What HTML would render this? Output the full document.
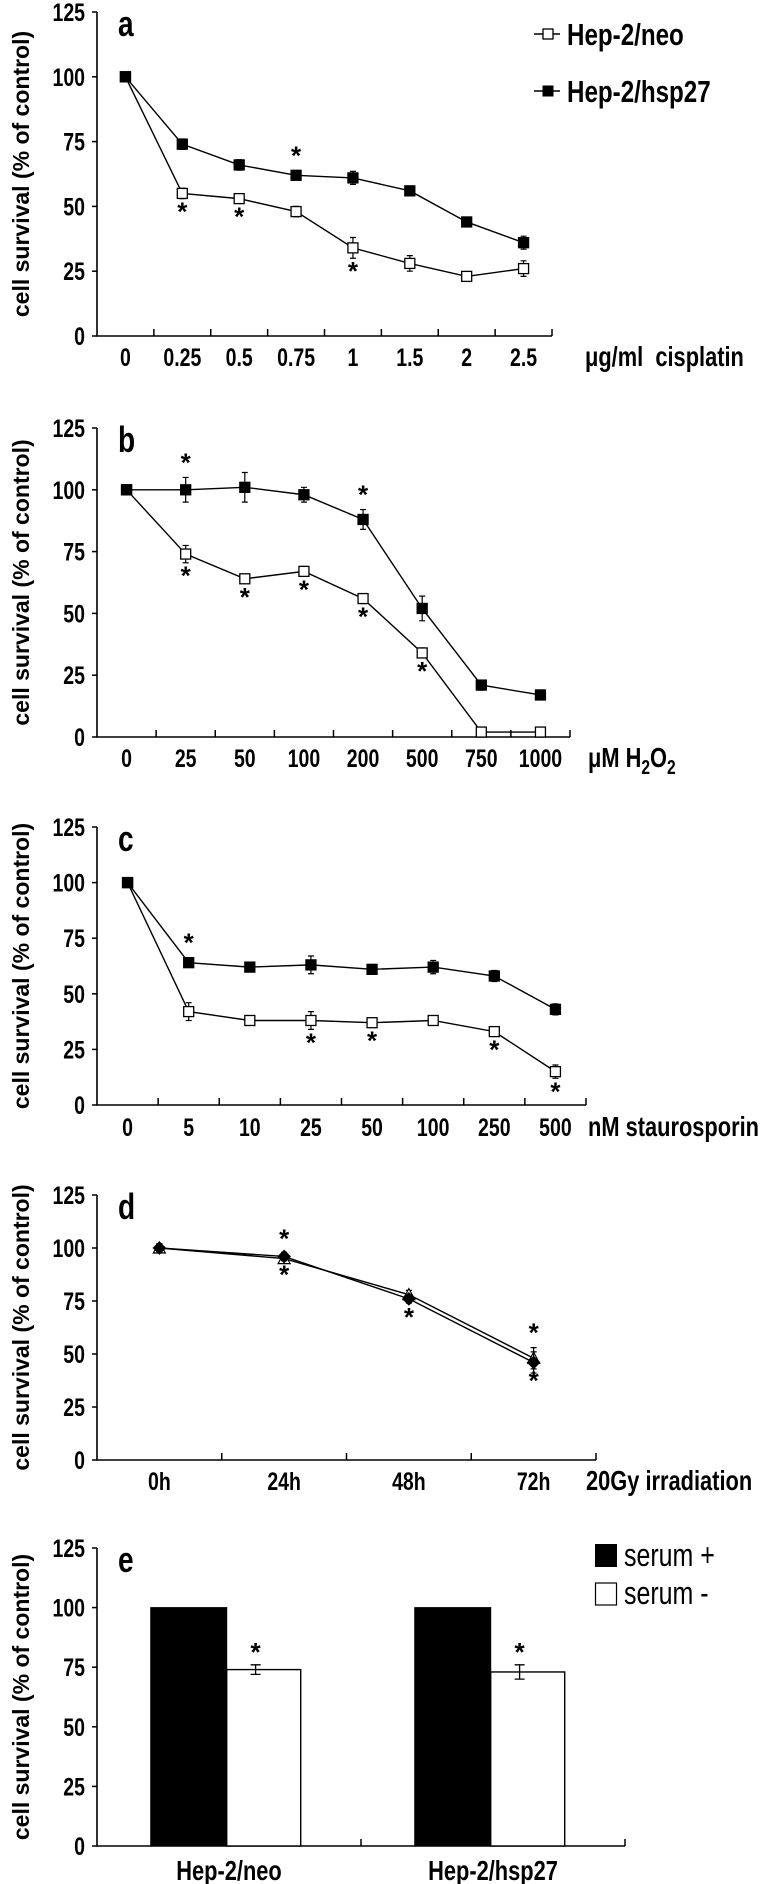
<!DOCTYPE html>
<html><head><meta charset="utf-8"><style>
html,body{margin:0;padding:0;background:#fff;}
svg{display:block;}
text{font-family:"Liberation Sans",sans-serif;font-weight:bold;fill:#000;}
</style></head><body>
<svg id="fig" width="777" height="1884" viewBox="0 0 777 1884" xmlns="http://www.w3.org/2000/svg"></svg>
<script>
// ---- data ----
const catA = ["0","0.25","0.5","0.75","1","1.5","2","2.5"];
const neoA = [100,55,53,48,34,28,23,26];
const neoAErr = [1,2,1.5,2,4,3,1.5,3];
const hspA = [100,74,66,62,61,56,44,36];
const hspAErr = [1,2,2,1.5,2.5,1.5,1.5,2.5];
const starsANeo = [1,2,4];
const starsAHsp = [3];

const catB = ["0","25","50","100","200","500","750","1000"];
const neoB = [100,74,64,67,56,34,2,2];
const neoBErr = [1,3.5,1.5,2,2,2,1,1];
const hspB = [100,100,101,98,88,52,21,17];
const hspBErr = [1,5,6,3,4,5,2,2];
const starsBNeo = [1,2,3,4,5];
const starsBHsp = [1,4];

const catC = ["0","5","10","25","50","100","250","500"];
const neoC = [100,42,38,38,37,38,33,15];
const neoCErr = [1,4,1.5,4,1.5,1.5,2,3];
const hspC = [100,64,62,63,61,62,58,43];
const hspCErr = [1,1.5,1.5,4,1.5,3,2.5,2.5];
const starsCNeo = [3,4,6,7];
const starsCHsp = [1];

const catD = ["0h","24h","48h","72h"];
const s1D = [100,96,76,46];
const s2D = [100,95,78,48];
const errD = [2,2,2,5];
const starsDUp = [1,3];
const starsDDown = [1,2,3];

const catE = ["Hep-2/neo","Hep-2/hsp27"];
const serumPlus = [100,100];
const serumMinus = [74,73];
const serumMinusErr = [2,3];

const yTicks = [0,25,50,75,100,125];

// ---- drawing ----
const NS="http://www.w3.org/2000/svg";
const svg=document.getElementById('fig');
const SX=0.78;
function mk(tag,attrs,parent){const e=document.createElementNS(NS,tag);for(const k in attrs)e.setAttribute(k,attrs[k]);(parent||svg).appendChild(e);return e;}
function txt(s,x,y,size,parent,anchor,narrow){
  const t=mk('text',{x:0,y:0,'font-size':size,'text-anchor':anchor||'middle'},parent);
  t.setAttribute('transform',`translate(${x},${y})`+(narrow?` scale(${SX},1)`:''));
  t.textContent=s;return t;}

function panel(o){
  const g=mk('g',{});
  
  
  const x0=97,x1=o.xr,y0=o.y0,y125=o.y125;
  const ys=v=>y0-(v/125)*(y0-y125);
  const n=o.cats.length,cw=(x1-x0)/n;
  const xs=i=>x0+cw*(i+0.5);
  const ax=mk('path',{d:`M${x0} ${y125}V${y0}H${x1}`,stroke:'#000','stroke-width':1.6,fill:'none'},g);
  
  
  yTicks.forEach(v=>{
    mk('line',{x1:x0-5,x2:x0,y1:ys(v),y2:ys(v),stroke:'#000','stroke-width':1.5},g);
    const t=txt(String(v),x0-12,ys(v)+9,25,g,'end',true);
    
    
  });
  const nt=o.tickCount||n;
  for(let i=1;i<=nt;i++){const tx=x0+(x1-x0)*i/nt;mk('line',{x1:tx,x2:tx,y1:y0,y2:y0-7,stroke:'#000','stroke-width':1.5},g);}
  o.cats.forEach((c,i)=>{
    const cx=o.bar?x0+(x1-x0)*(i+0.5)/n:xs(i);
    const t=txt(c,cx,y0+o.lblOff,o.bar?28:25,g,'middle',true);
    
    
  });
  if(o.xlabel){const t=txt('',o.xlx,y0+o.lblOff,28,g,'start',true);t.innerHTML=o.xlabel;
    
    }
  const lt=txt(o.letter,118,y125+24,36,g,'start',true);
  
  
  const yl=mk('text',{x:0,y:0,'font-size':23,'text-anchor':'middle'},g);
  yl.textContent='cell survival (% of control)';
  yl.setAttribute('transform',`translate(29,${(y0+y125)/2}) rotate(-90)`);
  
  
  return {g,ys,xs,x0,x1,cw,y0};
}
function series(P,vals,errs,fill,name,shape){
  const g=mk('g',{},P.g);
  
  
  mk('polyline',{points:vals.map((v,i)=>P.xs(i)+','+P.ys(v)).join(' '),fill:'none',stroke:'#000','stroke-width':1.4},g);
  vals.forEach((v,i)=>{
    const x=P.xs(i),y=P.ys(v),e=(errs[i]||0)/125*(P.y0-P.ys(125));
    if(e>2){mk('path',{d:`M${x} ${y-e}V${y+e}M${x-3} ${y-e}H${x+3}M${x-3} ${y+e}H${x+3}`,stroke:'#000','stroke-width':1.2},g);}
    let m;
    if(shape==='tri') m=mk('path',{d:`M${x} ${y-6}L${x+6} ${y+5}L${x-6} ${y+5}Z`,fill:fill,stroke:'#000','stroke-width':1.2},g);
    else if(shape==='dia') m=mk('path',{d:`M${x} ${y-6}L${x+6} ${y}L${x} ${y+6}L${x-6} ${y}Z`,fill:fill,stroke:'#000','stroke-width':1.2},g);
    else m=mk('rect',{x:x-5,y:y-5,width:10,height:10,fill:fill,stroke:'#000','stroke-width':1.3},g);
    
    
  });
}
function stars(P,vals,idx,dir,errs){
  idx.forEach(i=>{
    const e=(errs&&errs[i]||0)/125*(P.y0-P.ys(125));
    const y=P.ys(vals[i])+(dir>0?(Math.max(e,5)+22):-(Math.max(e,5)+6));
    const t=txt('*',P.xs(i),y,26,P.g,'middle');
    
    
  });
}

// Panel a
const A=panel({name:'panel-a',letter:'a',cats:catA,xr:552,y0:336,y125:12,lblOff:30,xlabel:'μg/ml&#160; cisplatin',xlx:585});
series(A,neoA,neoAErr,'#fff','series-hep2-neo');
series(A,hspA,hspAErr,'#000','series-hep2-hsp27');
stars(A,neoA,starsANeo,1,neoAErr);stars(A,hspA,starsAHsp,-1,hspAErr);
const lg=mk('g',{});


mk('line',{x1:534,x2:560,y1:34,y2:34,stroke:'#000','stroke-width':1.4},lg);
mk('rect',{x:543,y:29,width:10,height:10,fill:'#fff',stroke:'#000','stroke-width':1.3},lg);
txt('Hep-2/neo',567,45,31,lg,'start',true);
mk('line',{x1:534,x2:560,y1:91,y2:91,stroke:'#000','stroke-width':1.4},lg);
mk('rect',{x:543,y:86,width:10,height:10,fill:'#000',stroke:'#000'},lg);
txt('Hep-2/hsp27',567,102,31,lg,'start',true);

// Panel b
const B=panel({name:'panel-b',letter:'b',cats:catB,xr:570,y0:737,y125:428,lblOff:30,xlabel:'μM H<tspan dy="7" font-size="20">2</tspan><tspan dy="-7">O</tspan><tspan dy="7" font-size="20">2</tspan>',xlx:588});
series(B,neoB,neoBErr,'#fff','series-hep2-neo');
series(B,hspB,hspBErr,'#000','series-hep2-hsp27');
stars(B,neoB,starsBNeo,1,neoBErr);stars(B,hspB,starsBHsp,-1,hspBErr);

// Panel c
const C=panel({name:'panel-c',letter:'c',cats:catC,xr:586,y0:1105,y125:827,lblOff:31,xlabel:'nM staurosporin',xlx:588});
series(C,neoC,neoCErr,'#fff','series-hep2-neo');
series(C,hspC,hspCErr,'#000','series-hep2-hsp27');
stars(C,neoC,starsCNeo,1,neoCErr);stars(C,hspC,starsCHsp,-1,hspCErr);

// Panel d
const D=panel({name:'panel-d',letter:'d',cats:catD,xr:596,y0:1460,y125:1195,lblOff:30,xlabel:'20Gy irradiation',xlx:586});
series(D,s2D,errD,'#fff','series-hep2-neo','tri');
series(D,s1D,errD,'#000','series-hep2-hsp27','dia');
stars(D,s2D,starsDUp,-1,errD);stars(D,s1D,starsDDown,1,[0,1,1,2]);

// Panel e
const E=panel({name:'panel-e',letter:'e',cats:catE,xr:625,y0:1846,y125:1548,lblOff:34,bar:true,tickCount:2});
const gw=(E.x1-E.x0)/catE.length;
catE.forEach((c,i)=>{
  const cx=E.x0+gw*(i+0.5);
  const bw=76;
  const b1=mk('rect',{x:cx-bw*1.03,y:E.ys(serumPlus[i]),width:bw,height:E.y0-E.ys(serumPlus[i]),fill:'#000',stroke:'#000'},E.g);
  
  
  const b2=mk('rect',{x:cx-bw*0.03,y:E.ys(serumMinus[i]),width:bw-2,height:E.y0-E.ys(serumMinus[i]),fill:'#fff',stroke:'#000','stroke-width':1.4},E.g);
  
  
  const ex=cx+bw*0.35,ey=E.ys(serumMinus[i]),ee=serumMinusErr[i]/125*(E.y0-E.ys(125));
  mk('path',{d:`M${ex} ${ey-ee}V${ey+ee}M${ex-5} ${ey-ee}H${ex+5}M${ex-5} ${ey+ee}H${ex+5}`,stroke:'#000','stroke-width':1.3},E.g);
  const st=txt('*',ex,ey-ee-4,26,E.g,'middle');
  
  
});
const lg2=mk('g',{});


mk('rect',{x:595,y:1544,width:22,height:23,fill:'#000'},lg2);
txt('serum +',624,1566,32,lg2,'start',true).style.fontWeight='normal';
mk('rect',{x:595.5,y:1583,width:21,height:22,fill:'#fff',stroke:'#000','stroke-width':1.2},lg2);
txt('serum -',624,1604,32,lg2,'start',true).style.fontWeight='normal';
</script>
</body></html>
